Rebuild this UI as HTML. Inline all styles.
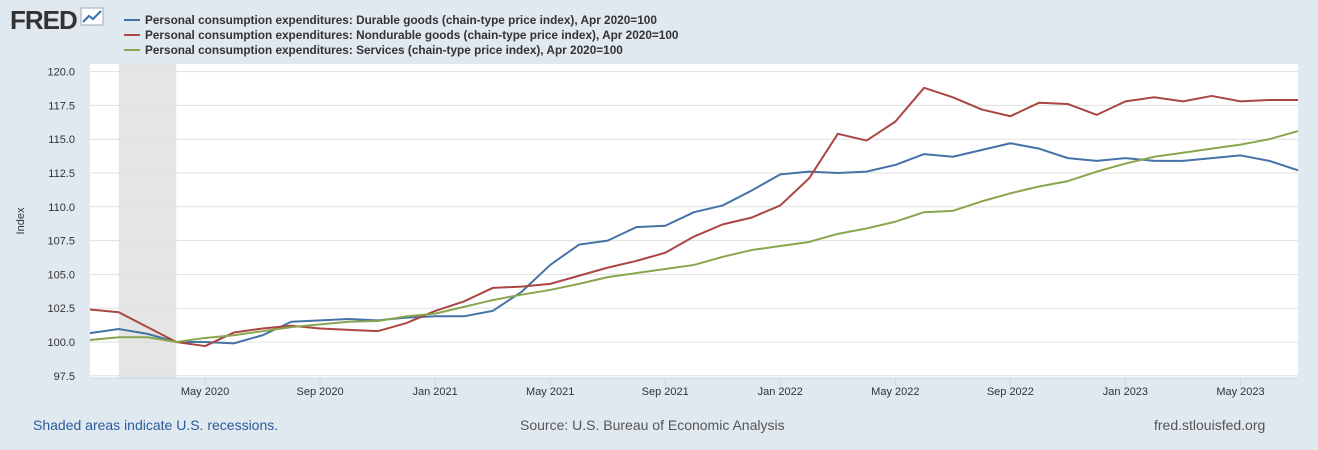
<!DOCTYPE html>
<html><head><meta charset="utf-8"><style>
body{margin:0;width:1318px;height:450px;background:#e1e9f0;font-family:"Liberation Sans",sans-serif;overflow:hidden;position:relative}
.leg{position:absolute;left:124px;font-size:11.8px;font-weight:bold;color:#333;display:flex;align-items:center}
.leg span.sw{display:inline-block;width:16px;height:2px;margin-right:5px}
.ft{position:absolute;top:417px;font-size:14px}
</style></head><body>
<div style="position:absolute;left:10px;top:5px;font-size:26px;font-weight:bold;color:#333;letter-spacing:-1px">FRED<svg width="26" height="22" style="vertical-align:top;margin-left:3px"><rect x="1" y="3" width="22" height="17" fill="#fff" stroke="#9ab"/><polyline points="3,17 9,11 13,14 21,6" fill="none" stroke="#3a6fb0" stroke-width="2"/></svg></div>
<div class="leg" style="top:13px"><span class="sw" style="background:#4572a7"></span>Personal consumption expenditures: Durable goods (chain-type price index), Apr 2020=100</div>
<div class="leg" style="top:28px"><span class="sw" style="background:#aa4643"></span>Personal consumption expenditures: Nondurable goods (chain-type price index), Apr 2020=100</div>
<div class="leg" style="top:43px"><span class="sw" style="background:#89a54e"></span>Personal consumption expenditures: Services (chain-type price index), Apr 2020=100</div>
<svg id="chart" width="1318" height="450" style="position:absolute;left:0;top:0"></svg>
<div class="ft" style="left:33px;color:#2a5a9a">Shaded areas indicate U.S. recessions.</div>
<div class="ft" style="left:520px;color:#555">Source: U.S. Bureau of Economic Analysis</div>
<div class="ft" style="left:1154px;color:#555">fred.stlouisfed.org</div>
<script>
const months=43;
const durable=[100.66,100.96,100.6,100.0,100.0,99.9,100.5,101.5,101.6,101.7,101.6,101.8,101.9,101.9,102.3,103.7,105.7,107.2,107.5,108.5,108.6,109.6,110.1,111.2,112.4,112.6,112.5,112.6,113.1,113.9,113.7,114.2,114.7,114.3,113.6,113.4,113.6,113.4,113.4,113.6,113.8,113.4,112.7];
const nondurable=[102.4,102.2,101.1,100.0,99.7,100.7,101.0,101.2,101.0,100.9,100.8,101.4,102.3,103.0,104.0,104.1,104.3,104.9,105.5,106.0,106.6,107.8,108.7,109.2,110.1,112.1,115.4,114.9,116.3,118.8,118.1,117.2,116.7,117.7,117.6,116.8,117.8,118.1,117.8,118.2,117.8,117.9,117.9];
const services=[100.15,100.35,100.35,100.0,100.3,100.5,100.8,101.1,101.3,101.5,101.55,101.9,102.1,102.6,103.1,103.5,103.85,104.3,104.8,105.1,105.4,105.7,106.3,106.8,107.1,107.4,108.0,108.4,108.9,109.6,109.7,110.4,111.0,111.5,111.9,112.6,113.2,113.7,114.0,114.3,114.6,115.0,115.6];
const yTicks=[97.5,100.0,102.5,105.0,107.5,110.0,112.5,115.0,117.5,120.0];
const xTickIdx=[4,8,12,16,20,24,28,32,36,40];
const xTickLabels=["May 2020","Sep 2020","Jan 2021","May 2021","Sep 2021","Jan 2022","May 2022","Sep 2022","Jan 2023","May 2023"];
const recession=[1,3];
const L=90,R=1298,T=64,B=378;
const x=i=>L+i*(R-L)/(months-1);
const y=v=>342-(v-100)*13.52;
const svg=document.getElementById('chart');const NS='http://www.w3.org/2000/svg';
function mk(t,a){const e=document.createElementNS(NS,t);for(const k in a)e.setAttribute(k,a[k]);svg.appendChild(e);return e;}
let e=mk('rect',{x:L,y:T,width:R-L,height:B-T,fill:'#fff'});


e=mk('rect',{x:x(recession[0]),y:T,width:x(recession[1])-x(recession[0]),height:B-T,fill:'#e5e5e5'});


yTicks.forEach(v=>{
 e=mk('line',{x1:L,x2:R,y1:y(v),y2:y(v),stroke:'#e0e0e0','stroke-width':1});
 
 
 e=mk('text',{x:L-15,y:y(v)+4,'text-anchor':'end','font-size':11,fill:'#333'});e.textContent=v.toFixed(1);
 
 
});
e=mk('line',{x1:L,x2:R,y1:B,y2:B,stroke:'#ccd6eb'});


xTickIdx.forEach((idx,k)=>{
 e=mk('line',{x1:x(idx),x2:x(idx),y1:B,y2:B+8,stroke:'#ccd6eb'});
 
 
 e=mk('text',{x:x(idx),y:B+17,'text-anchor':'middle','font-size':11,fill:'#333'});e.textContent=xTickLabels[k];
 
 
});
e=mk('text',{x:24,y:221,'text-anchor':'middle','font-size':11,fill:'#333',transform:'rotate(-90 24 221)'});e.textContent='Index';


[[durable,'#4572a7','series-durable'],[nondurable,'#aa4643','series-nondurable'],[services,'#89a54e','series-services']].forEach(([d,c,n])=>{
 e=mk('polyline',{points:d.map((v,i)=>x(i)+','+y(v)).join(' '),fill:'none',stroke:c,'stroke-width':2,'stroke-linejoin':'round'});
 
 
});
</script>
</body></html>
